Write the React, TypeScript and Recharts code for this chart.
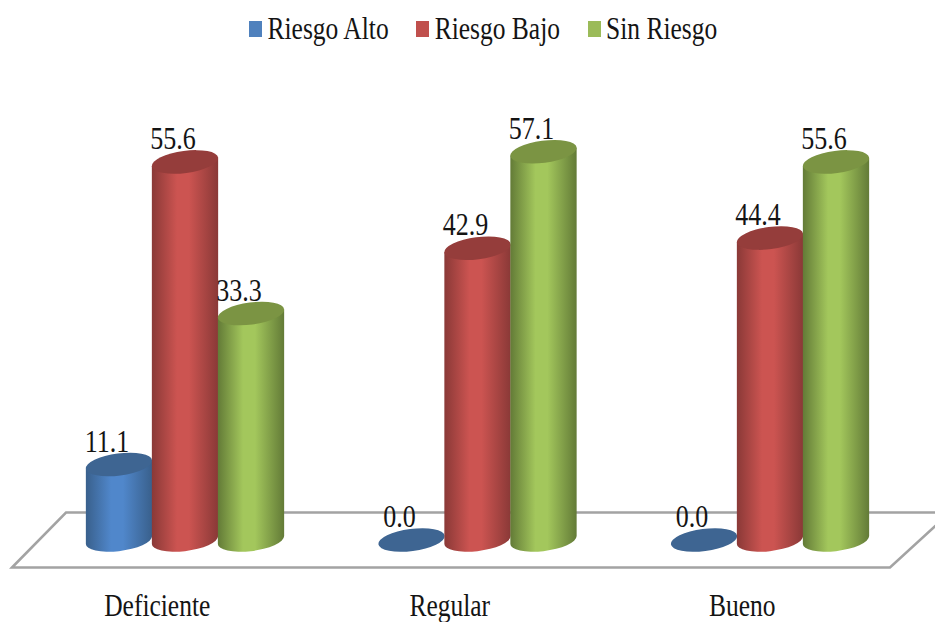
import React from "react";
import { Bar, BarChart, LabelList, Legend, XAxis, YAxis } from "recharts";

const categories = ["Deficiente", "Regular", "Bueno"];
const riesgoAlto = [11.1, 0.0, 0.0];
const riesgoBajo = [55.6, 42.9, 44.4];
const sinRiesgo = [33.3, 57.1, 55.6];

const rows = categories.map((categoria, i) => ({
  categoria,
  alto: riesgoAlto[i],
  bajo: riesgoBajo[i],
  sin: sinRiesgo[i],
}));

const FONT = "'Liberation Serif', 'Times New Roman', serif";
const INK = "#141414";
const STRETCH = 1.22;

const palette = {
  alto: { id: "cylAlto", solid: "#4f81bd", edge: "#39608c", mid: "#5087cb", lid: "#3e6592" },
  bajo: { id: "cylBajo", solid: "#c0504d", edge: "#8a3937", mid: "#cc5451", lid: "#953d3b" },
  sin: { id: "cylSin", solid: "#9bbb59", edge: "#637b37", mid: "#a3c75c", lid: "#7b9443" },
};

const TILT = -7.5;
const RAD = (TILT * Math.PI) / 180;

// Cylinder body with a tilted elliptical lid and base; a zero value leaves only the disc.
const cylinder = (tone: typeof palette.alto) => (props: any) => {
  const { x, y, width, height, value } = props;
  const half = width / 2;
  const cx = x + half;
  const rx = half * 1.012;
  const ry = half * 0.335;
  const extreme = Math.sqrt(rx * rx * Math.cos(RAD) ** 2 + ry * ry * Math.sin(RAD) ** 2);
  const shift = ((rx * rx - ry * ry) * Math.sin(-RAD) * Math.cos(RAD)) / extreme;
  const bottom = y + height;
  const left = cx - extreme;
  const right = cx + extreme;
  const val = Array.isArray(value) ? value[1] : value;
  return (
    <g>
      {val > 0 && (
        <path
          d={`M${left},${y + shift} L${left},${bottom + shift} A${rx},${ry} ${TILT} 0 0 ${right},${bottom - shift} L${right},${y - shift} Z`}
          fill={`url(#${tone.id})`}
        />
      )}
      <ellipse cx={cx} cy={y} rx={rx} ry={ry} fill={tone.lid} transform={`rotate(${TILT} ${cx} ${y})`} />
    </g>
  );
};

const StretchedText = ({ x, y, size, children }: any) => (
  <text
    transform={`translate(${x},${y}) scale(1,${STRETCH})`}
    textAnchor="middle"
    fontFamily={FONT}
    fontSize={size}
    fill={INK}
  >
    {children}
  </text>
);

const valueLabel = (props: any) => {
  const { x, y, width, value } = props;
  return (
    <StretchedText x={x + width / 2 - 12} y={y - 13} size={26}>
      {Number(value).toFixed(1)}
    </StretchedText>
  );
};

const categoryTick = (props: any) => {
  const { x, y, payload } = props;
  return (
    <StretchedText x={x - 28} y={y + 68} size={25.5}>
      {payload.value}
    </StretchedText>
  );
};

const legendContent = (props: any) => (
  <div style={{ display: "flex", alignItems: "center", height: 58, paddingLeft: 249, fontFamily: FONT, fontSize: 25.5, color: INK }}>
    {(props.payload ?? []).map((entry: any, i: number) => (
      <div key={entry.value} style={{ display: "flex", alignItems: "center", marginLeft: i === 0 ? 0 : 27.5 }}>
        <span style={{ width: 13, height: 16, background: entry.color, marginRight: 5.5 }} />
        <span style={{ display: "inline-block", whiteSpace: "nowrap", transform: `scaleY(${STRETCH})`, lineHeight: "30px" }}>
          {entry.value}
        </span>
      </div>
    ))}
  </div>
);

const series = [
  { key: "alto", name: "Riesgo Alto", tone: palette.alto },
  { key: "bajo", name: "Riesgo Bajo", tone: palette.bajo },
  { key: "sin", name: "Sin Riesgo", tone: palette.sin },
];

export default function App() {
  return (
    <div style={{ position: "absolute", left: 0, top: 0, width: 935, height: 622, overflow: "hidden", background: "#fff" }}>
      <BarChart
        width={935}
        height={622}
        data={rows}
        margin={{ top: 74, right: 18.5, bottom: 52, left: 39 }}
        barGap={0}
        barSize={66}
      >
        <defs>
          {Object.values(palette).map((tone) => (
            <linearGradient key={tone.id} id={tone.id} x1="0" y1="0" x2="1" y2="0">
              <stop offset="0%" stopColor={tone.edge} />
              <stop offset="38%" stopColor={tone.mid} />
              <stop offset="56%" stopColor={tone.mid} />
              <stop offset="100%" stopColor={tone.edge} />
            </linearGradient>
          ))}
        </defs>
        {/* Floor plane the cylinders stand on */}
        <polygon points="12,567.5 66,512.5 950,512.5 890,567.5" fill="#fff" stroke="#a3a3a3" strokeWidth={2.5} />
        <XAxis dataKey="categoria" axisLine={false} tickLine={false} tick={categoryTick} interval={0} />
        <YAxis hide domain={[0, 60]} />
        <Legend verticalAlign="top" align="left" content={legendContent} wrapperStyle={{ left: 0, top: 0, width: 935 }} />
        {series.map((s) => (
          <Bar key={s.key} dataKey={s.key} name={s.name} fill={s.tone.solid} isAnimationActive={false} shape={cylinder(s.tone)}>
            <LabelList dataKey={s.key} content={valueLabel} />
          </Bar>
        ))}
      </BarChart>
    </div>
  );
}
